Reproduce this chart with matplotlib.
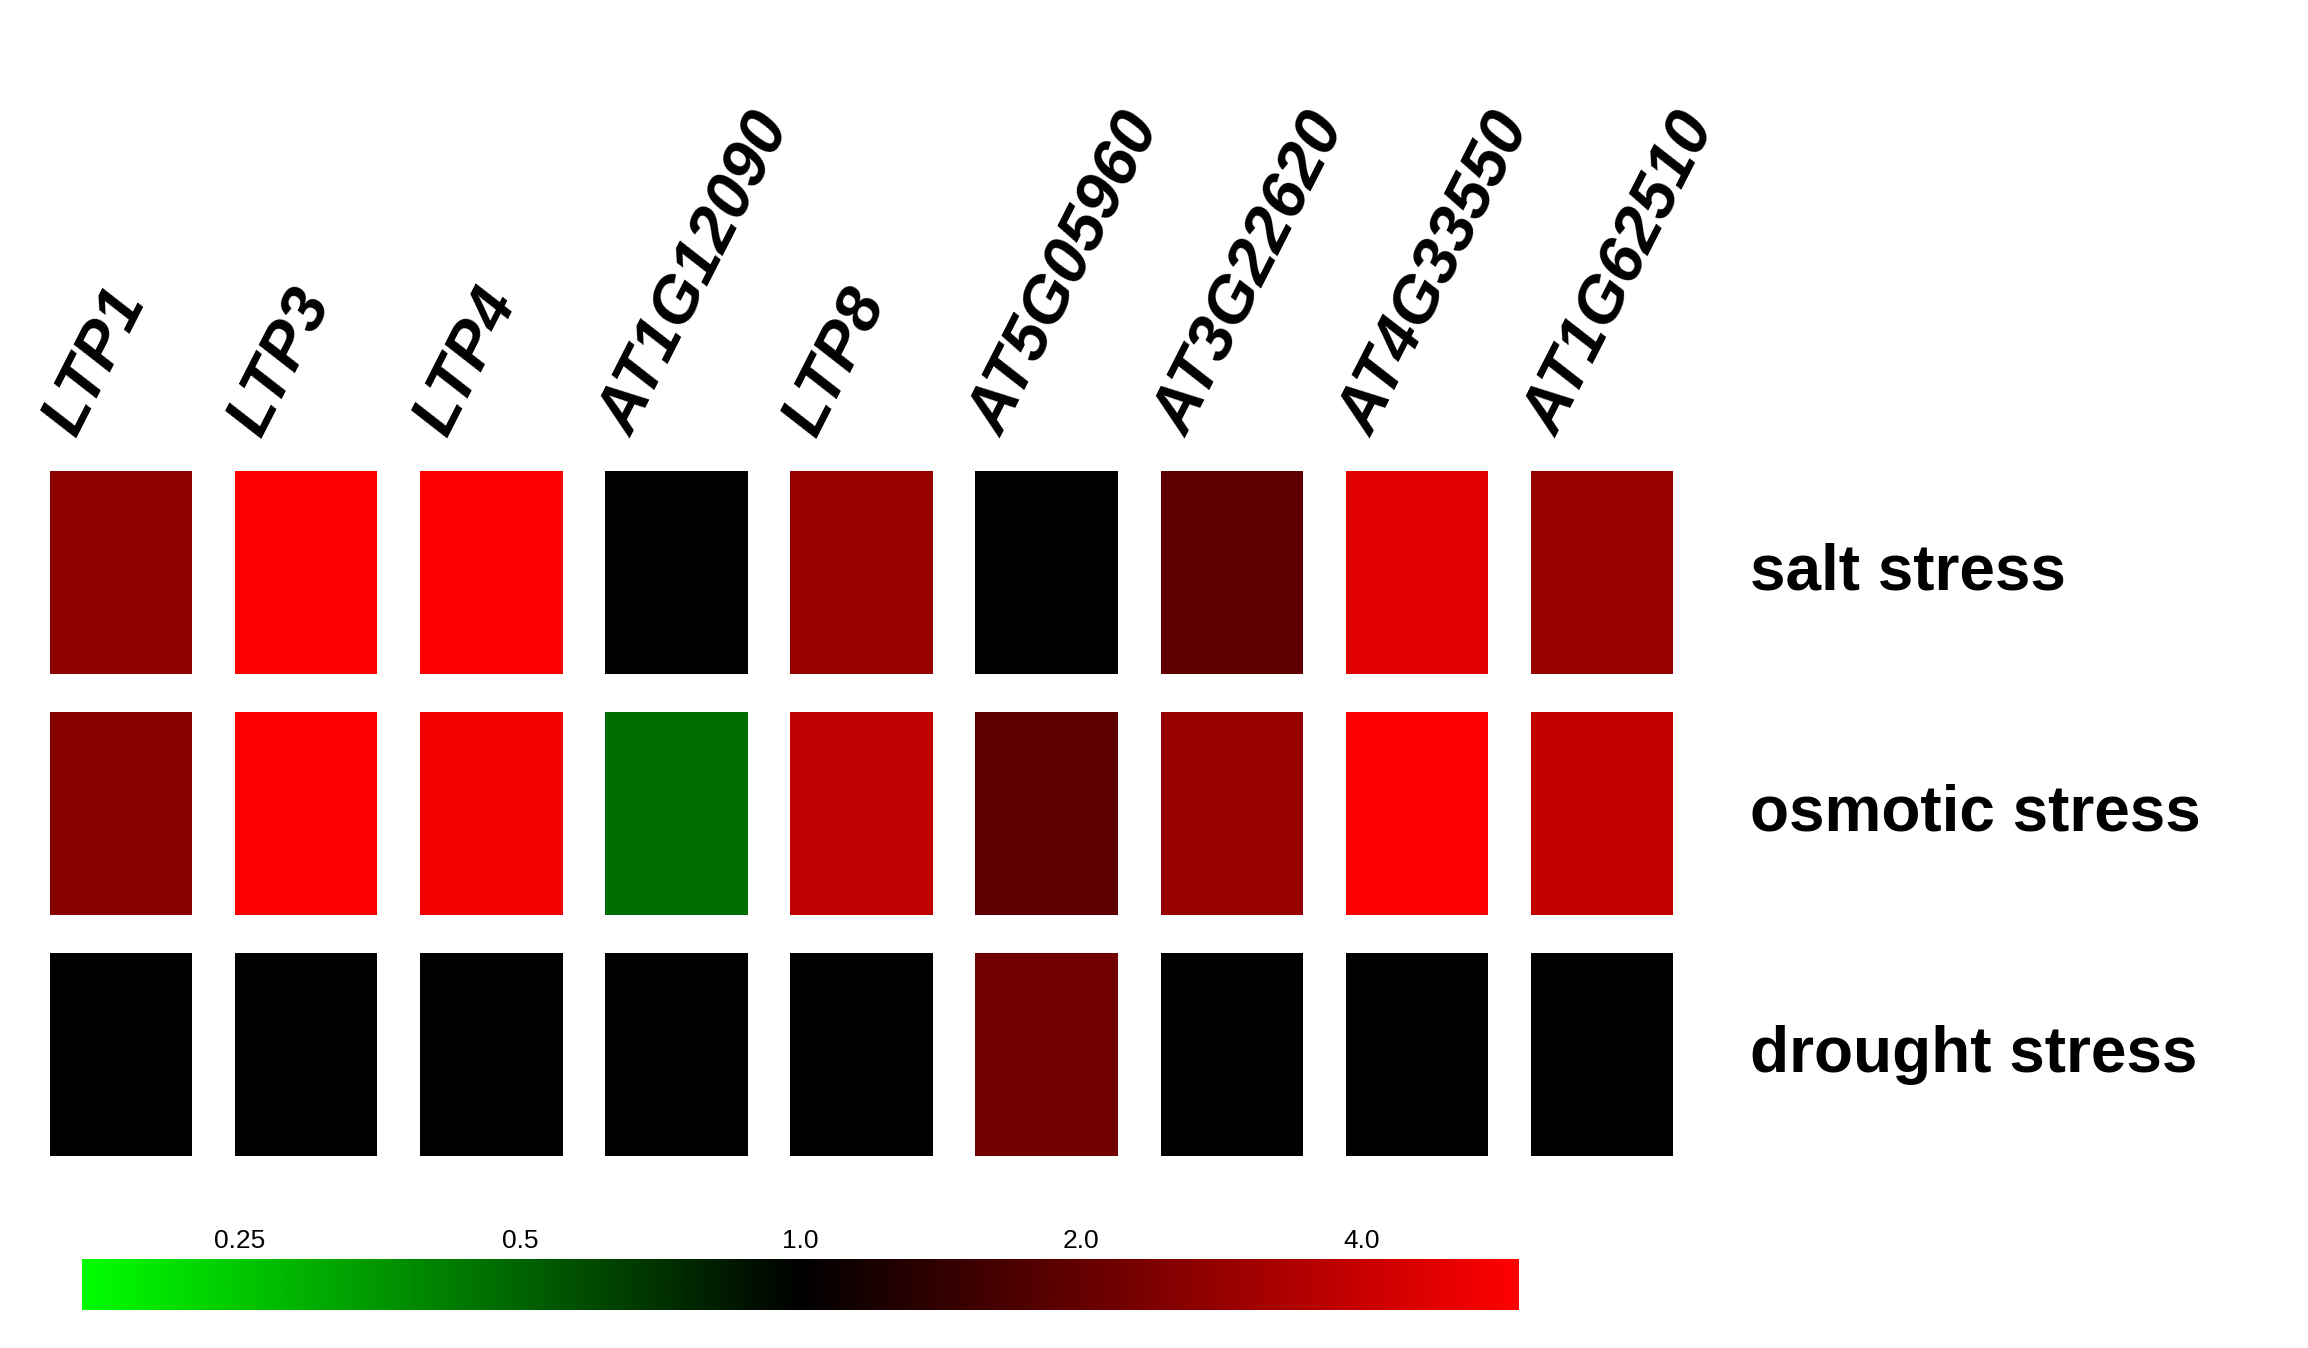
import numpy as np
import matplotlib
matplotlib.use("Agg")
import matplotlib.pyplot as plt
from matplotlib.colors import LinearSegmentedColormap, Normalize

genes = ["LTP1", "LTP3", "LTP4", "AT1G12090", "LTP8", "AT5G05960", "AT3G22620", "AT4G33550", "AT1G62510"]
conditions = ["salt stress", "osmotic stress", "drought stress"]
# log2 fold change
salt = [1.4, 2.56, 2.5, 0.0, 1.5, 0.0, 0.95, 2.25, 1.5]
osmotic = [1.35, 2.56, 2.45, -1.1, 1.9, 0.95, 1.5, 2.5, 1.95]
drought = [0.0, 0.0, 0.0, 0.0, 0.0, 1.15, 0.0, 0.0, 0.0]
cbar_ticks = [0.25, 0.5, 1.0, 2.0, 4.0]
cbar_labels = ["0.25", "0.5", "1.0", "2.0", "4.0"]

vlim = 2.56
cmap = LinearSegmentedColormap.from_list("gbr", [(0, 1, 0), (0, 0, 0), (1, 0, 0)])
norm = Normalize(-vlim, vlim)

fig = plt.figure(figsize=(23.08, 13.48), dpi=100)
ax = fig.add_axes([0.0123, 0.128, 0.722, 0.537])
x = np.arange(len(genes))
for r, vals in enumerate([salt, osmotic, drought]):
    ax.bar(x, [0.84] * len(x), bottom=2 - r - 0.42, width=0.77,
           color=cmap(norm(np.array(vals))))
ax.set_xlim(-0.5, len(genes) - 0.5)
ax.set_ylim(-0.5, 2.5)
ax.axis("off")
for i, g in enumerate(genes):
    ax.text(i - 0.18, 2.53, g, rotation=63, ha="left", va="bottom",
            fontsize=47, fontweight="bold", style="italic", family="Liberation Sans",
            rotation_mode="anchor")
for r, c in enumerate(conditions):
    ax.text(len(genes) - 0.2, 2 - r, c, ha="left", va="center",
            fontsize=46, fontweight="bold", family="Liberation Sans")

cax = fig.add_axes([0.0356, 0.028, 0.6226, 0.038])
grad = np.linspace(-vlim, vlim, 512).reshape(1, -1)
cax.imshow(grad, aspect="auto", cmap=cmap, norm=norm, extent=[-vlim, vlim, 0, 1])
cax.set_yticks([])
cax.xaxis.tick_top()
cax.set_xticks(np.log2(cbar_ticks))
cax.set_xticklabels(cbar_labels, fontsize=19, family="Liberation Sans")
cax.tick_params(axis="x", length=0, pad=4)
for s in cax.spines.values():
    s.set_visible(False)

fig.savefig("out.png", dpi=100, facecolor="white")
